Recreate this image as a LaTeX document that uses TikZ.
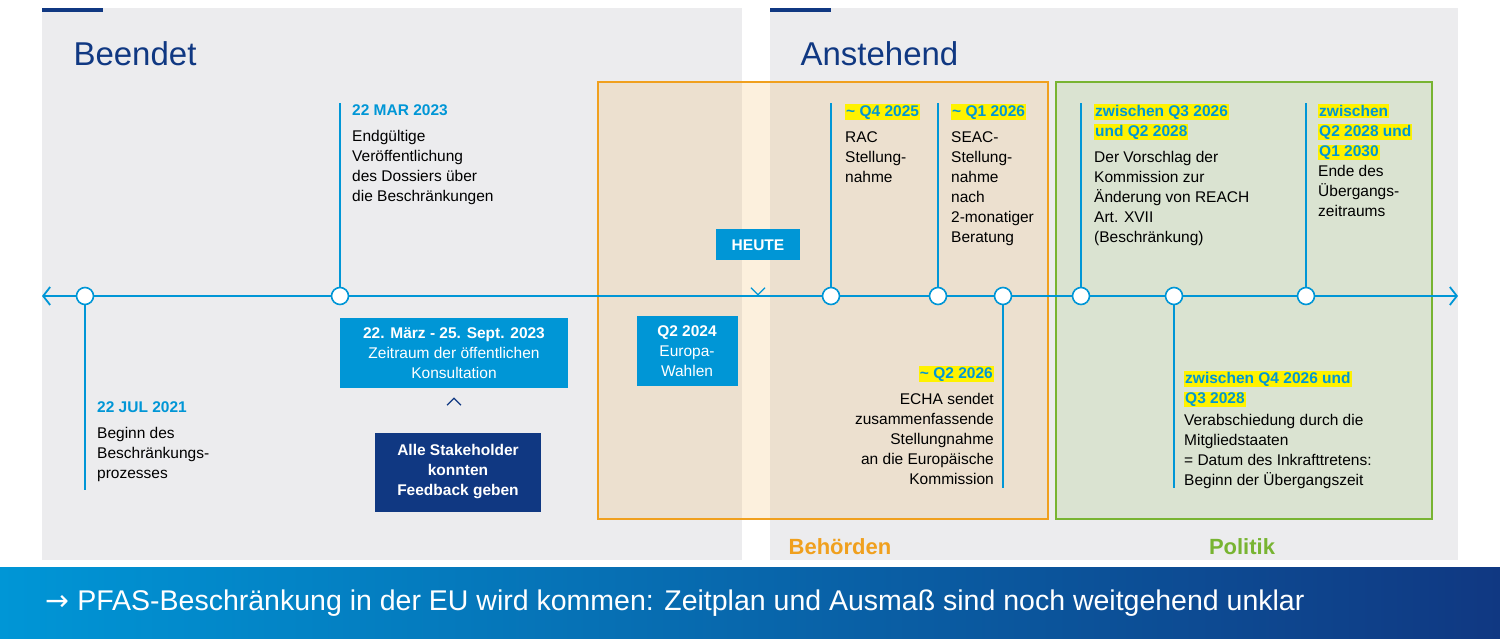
\documentclass[tikz,border=0pt]{standalone}
\usepackage{fontspec}
\setmainfont{Liberation Sans}
\newfontfamily\symfont{DejaVu Sans}
\usetikzlibrary{arrows.meta, positioning}
\definecolor{tlblue}{RGB}{0, 150, 214}
\definecolor{navy}{RGB}{16, 56, 130}
\definecolor{amber}{RGB}{240, 160, 30}
\definecolor{leaf}{RGB}{120, 180, 50}
\definecolor{panel}{RGB}{236, 236, 238}
\newcommand{\hl}[1]{\setlength{\fboxsep}{1pt}\colorbox{yellow}{#1}}

\begin{document}
\begin{tikzpicture}[x=1pt, y=-1pt,
        every node/.style={font=\fontsize{15.5}{20}\selectfont},
        txt/.style={anchor=north west, align=left, inner sep=0pt},
        bluebox/.style={fill=tlblue, text=white, align=center, inner sep=0pt,
                        font=\fontsize{15.5}{20}\selectfont\bfseries},
        stem/.style={tlblue, line width=1.3pt},
        dot/.style={circle, draw=tlblue, line width=1.6pt, fill=white,
                    minimum size=17pt, inner sep=0pt},
    ]
    \useasboundingbox (0,0) rectangle (1500,639);
    \fill[white] (0,0) rectangle (1500,639);

    % Panels
    \fill[panel] (42,8) rectangle (742,560);
    \fill[panel] (770,8) rectangle (1458,560);
    \fill[navy] (42,8) rectangle (103,12);
    \fill[navy] (770,8) rectangle (831,12);
    \node[anchor=west, text=navy, font=\fontsize{33}{36}\selectfont] (done) at (70,54) {Beendet};
    \node[anchor=west, text=navy, font=\fontsize{33}{36}\selectfont] (next) at (797,54) {Anstehend};

    % Groups
    \draw[amber, line width=1.5pt, fill=amber, fill opacity=0.15] (598,82) rectangle (1048,519);
    \draw[leaf, line width=1.5pt, fill=leaf, fill opacity=0.15] (1056,82) rectangle (1432,519);
    \node[text=amber, font=\fontsize{22}{26}\selectfont\bfseries] (auth) at (840,547) {Behörden};
    \node[text=leaf, font=\fontsize{22}{26}\selectfont\bfseries] (pol) at (1242,547) {Politik};

    % Timeline
    \coordinate (tl0) at (42,296);
    \coordinate (tl1) at (1458,296);
    \draw[tlblue, line width=1.8pt, {Straight Barb[length=7pt, width=18pt]}-{Straight Barb[length=7pt, width=18pt]}] (tl0) -- (tl1);

    % Stems
    \coordinate (s1) at (85,490);
    \coordinate (s2) at (340,103);
    \coordinate (s3) at (831,103);
    \coordinate (s4) at (938,103);
    \coordinate (s5) at (1003,488);
    \coordinate (s6) at (1081,103);
    \coordinate (s7) at (1174,488);
    \coordinate (s8) at (1306,103);
    \foreach \i/\x in {1/85, 2/340, 3/831, 4/938, 5/1003, 6/1081, 7/1174, 8/1306} {
        \draw[stem] (\x,296) -- (s\i);
        \node[dot] (d\i) at (\x,296) {};
    }

    % Texts above
    \node[txt] (t2) at (352,104) {\textcolor{tlblue}{\bfseries 22 MAR 2023}\\[6pt]Endgültige\\Veröffentlichung\\des Dossiers über\\die Beschränkungen};
    \node[txt] (t3) at (845,104) {\textcolor{tlblue}{\bfseries\hl{\textasciitilde\ Q4 2025}}\\[6pt]RAC\\Stellung-\\nahme};
    \node[txt] (t4) at (951,104) {\textcolor{tlblue}{\bfseries\hl{\textasciitilde\ Q1 2026}}\\[6pt]SEAC-\\Stellung-\\nahme\\nach\\2-monatiger\\Beratung};
    \node[txt] (t6) at (1094,104) {\textcolor{tlblue}{\bfseries\hl{zwischen Q3 2026}}\\\textcolor{tlblue}{\bfseries\hl{und Q2 2028}}\\[6pt]Der Vorschlag der\\Kommission zur\\Änderung von REACH\\Art. XVII\\(Beschränkung)};
    \node[txt] (t8) at (1318,104) {\textcolor{tlblue}{\bfseries\hl{zwischen}}\\\textcolor{tlblue}{\bfseries\hl{Q2 2028 und}}\\\textcolor{tlblue}{\bfseries\hl{Q1 2030}}\\Ende des\\Übergangs-\\zeitraums};

    % Texts below
    \node[txt] (t1) at (97,401) {\textcolor{tlblue}{\bfseries 22 JUL 2021}\\[6pt]Beginn des\\Beschränkungs-\\prozesses};
    \node[txt, anchor=north east, align=right] (t5) at (994,366) {\textcolor{tlblue}{\bfseries\hl{\textasciitilde\ Q2 2026}}\\[6pt]ECHA sendet\\zusammenfassende\\Stellungnahme\\an die Europäische\\Kommission};
    \node[txt] (t7) at (1184,371) {\textcolor{tlblue}{\bfseries\hl{zwischen Q4 2026 und}}\\\textcolor{tlblue}{\bfseries\hl{Q3 2028}}\\[2pt]Verabschiedung durch die\\Mitgliedstaaten\\= Datum des Inkrafttretens:\\Beginn der Übergangszeit};

    % Boxes
    \node[bluebox, minimum width=84pt, minimum height=31pt] (today) at (758,245) {HEUTE};
    \draw[tlblue, line width=1.2pt] ([shift={(-7,27)}]today.south) -- ([shift={(0,34)}]today.south) -- ([shift={(7,27)}]today.south);
    \node[bluebox, minimum width=228pt, minimum height=70pt] (cons) at (454,353) {22. März - 25. Sept. 2023\\\mdseries Zeitraum der öffentlichen\\\mdseries Konsultation};
    \draw[navy, line width=1.2pt] ([shift={(-7,17)}]cons.south) -- ([shift={(0,10)}]cons.south) -- ([shift={(7,17)}]cons.south);
    \node[bluebox, fill=navy, minimum width=166pt, minimum height=79pt] (stake) at (458,472) {Alle Stakeholder\\konnten\\Feedback geben};
    \node[bluebox, minimum width=101pt, minimum height=70pt] (vote) at (687,351) {Q2 2024\\\mdseries Europa-\\\mdseries Wahlen};

    % Banner
    \shade[left color=tlblue, right color=navy] (0,567) rectangle (1500,639);
    \node[anchor=west, text=white, font=\fontsize{28.5}{32}\selectfont] (msg) at (42,603) {{\symfont →} PFAS-Beschränkung in der EU wird kommen: Zeitplan und Ausmaß sind noch weitgehend unklar};
\end{tikzpicture}
\end{document}
